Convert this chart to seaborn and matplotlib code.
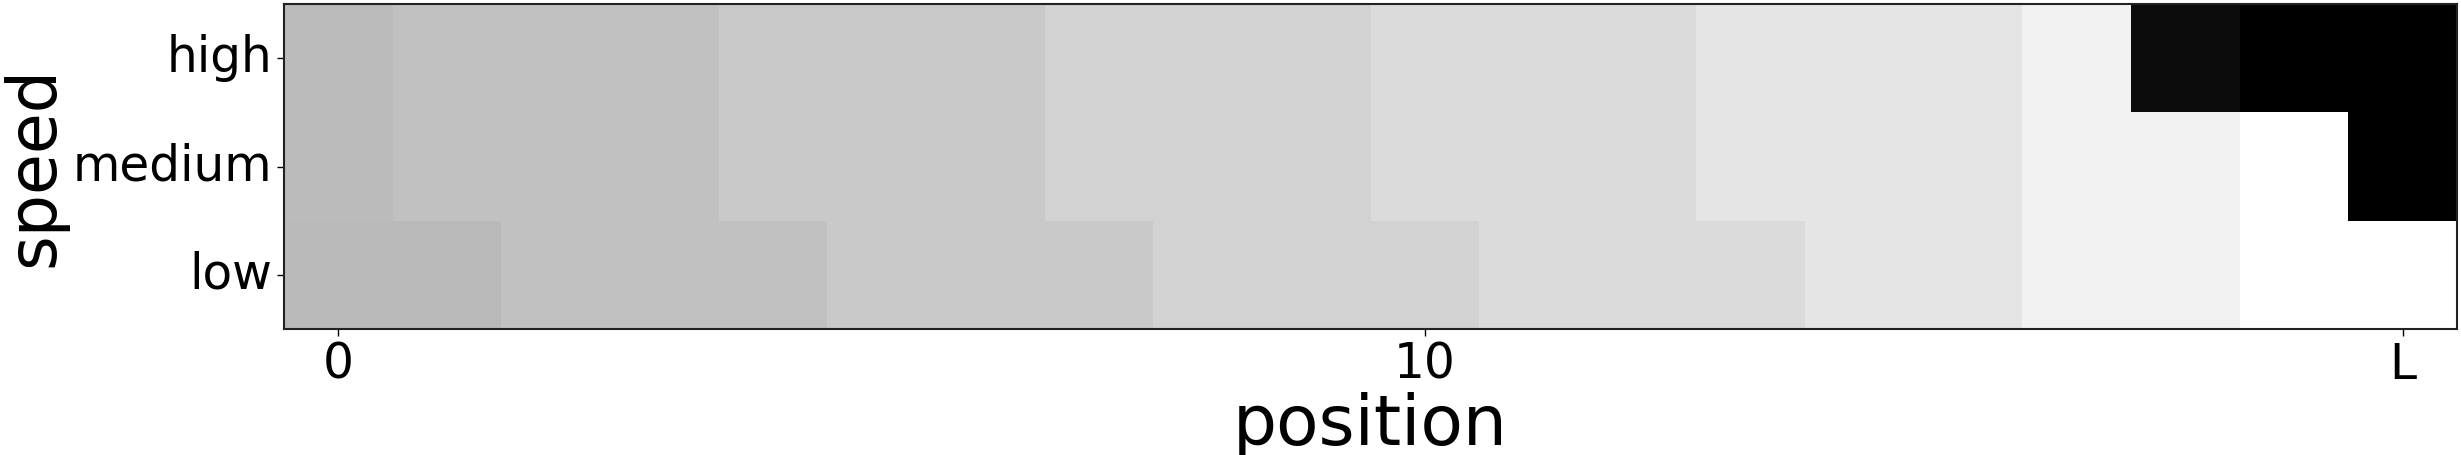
import pandas as pd
import numpy as np
import matplotlib
matplotlib.use("Agg")
import matplotlib.pyplot as plt
import seaborn as sns

# speed rows (top to bottom) and positions 0..L
speeds = ["high", "medium", "low"]
positions = list(range(20))
xtick_pos = [0, 10, 19]
xtick_labels = ["0", "10", "L"]

# darkness (0 = white, 255 = black)
high = [68, 62, 62, 62, 54, 54, 54, 45, 45, 45, 36, 36, 36, 26, 26, 26, 13, 243, 255, 255]
medium = [68, 62, 62, 62, 54, 54, 54, 45, 45, 45, 36, 36, 36, 26, 26, 26, 13, 13, 0, 255]
low = [70, 70, 62, 62, 62, 54, 54, 54, 45, 45, 45, 36, 36, 36, 26, 26, 13, 13, 0, 0]

df = pd.DataFrame([high, medium, low], index=speeds, columns=positions)

fig = plt.figure(figsize=(24.61, 4.55), dpi=100)
ax = fig.add_axes([0.1154, 0.277, 0.8830, 0.714])
sns.heatmap(df, ax=ax, cmap="gray_r", vmin=0, vmax=255, cbar=False)

for s in ax.spines.values():
    s.set_visible(True)
    s.set_color("#222222")
    s.set_linewidth(1.5)

ax.set_xticks([p + 0.5 for p in xtick_pos])
ax.set_xticklabels(xtick_labels, rotation=0, fontsize=35)
ax.set_yticks([i + 0.5 for i in range(len(speeds))])
ax.set_yticklabels(speeds, rotation=0, fontsize=35)
ax.tick_params(length=5, width=1)
ax.set_xlabel("position", fontsize=50, labelpad=2)
ax.set_ylabel("speed", fontsize=48, labelpad=4)

fig.savefig("out.png", dpi=100)
